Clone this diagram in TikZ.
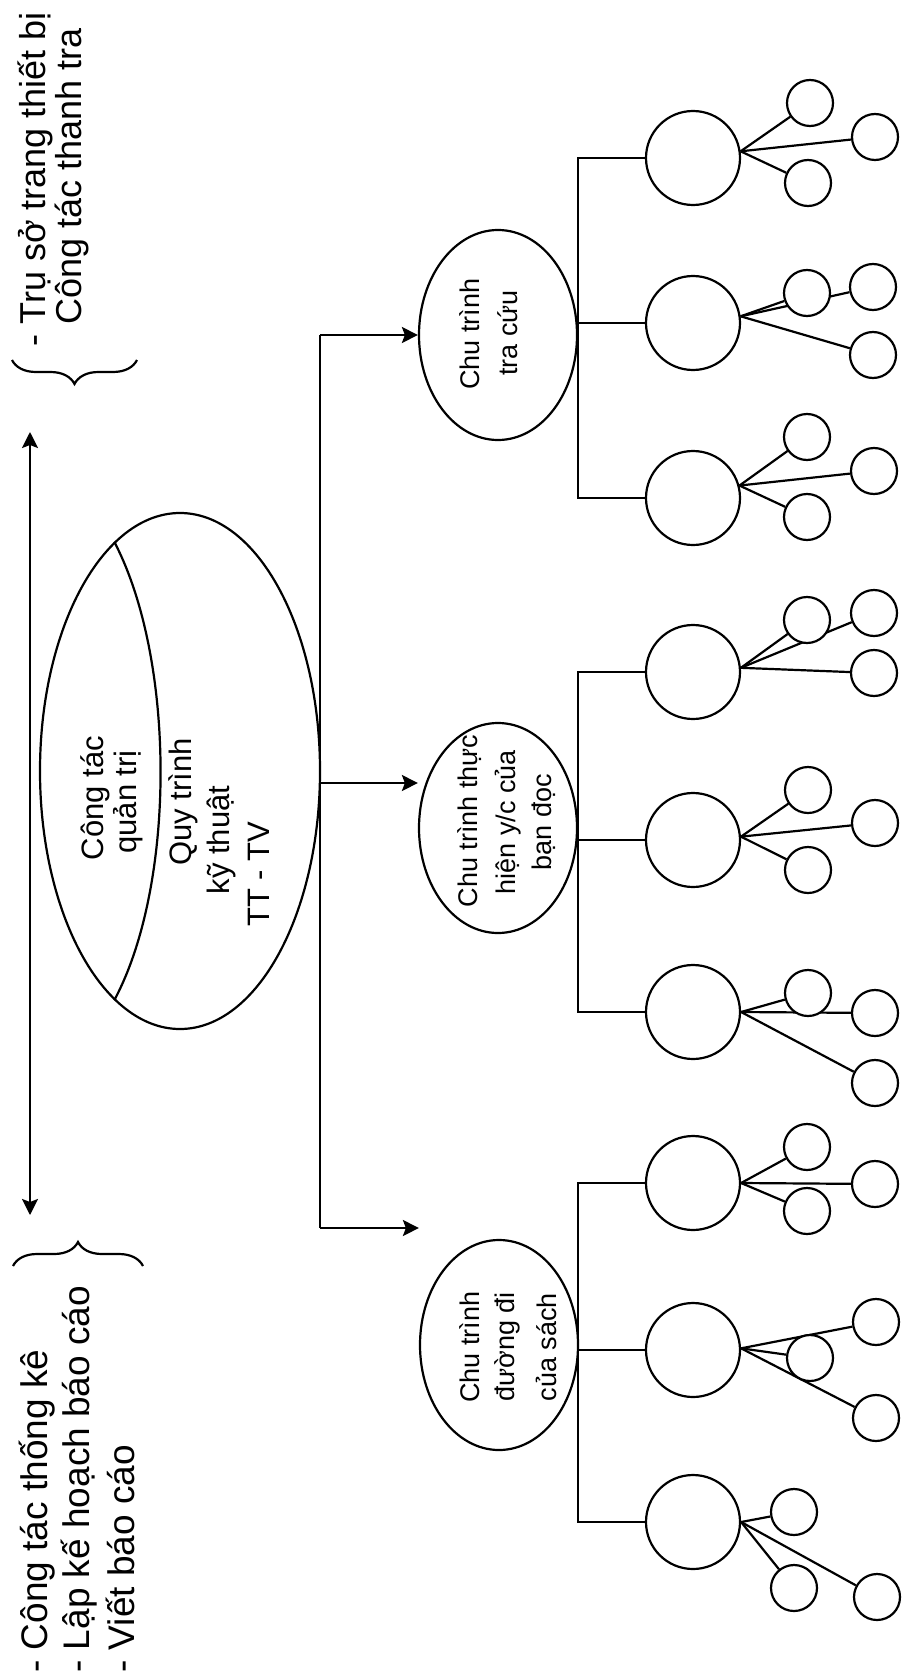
\documentclass[tikz,border=0pt]{standalone}
\usepackage{fontspec}
\setmainfont{Liberation Sans}
\usetikzlibrary{shapes.geometric, arrows.meta, decorations.pathreplacing, backgrounds}
\begin{document}
\begin{tikzpicture}[x=0.5pt, y=-0.5pt,
  ln/.style={line width=1.1pt},
  big/.style={circle, draw, line width=1.1pt, fill=white, minimum size=47pt, inner sep=0pt},
  sm/.style={circle, draw, line width=1.1pt, fill=white, minimum size=23pt, inner sep=0pt},
  ell/.style={ellipse, draw, line width=1.1pt, inner sep=0pt},
  lbl/.style={rotate=90, anchor=west, inner sep=0pt, font=\fontsize{18.5pt}{22pt}\selectfont},
  tlbl/.style={rotate=90, anchor=west, inner sep=0pt, font=\fontsize{18pt}{22pt}\selectfont},
  inl/.style={rotate=90, inner sep=0pt, font=\fontsize{13.5pt}{16pt}\selectfont},
  inm/.style={rotate=90, inner sep=0pt, font=\fontsize{15.5pt}{18pt}\selectfont},
  arr/.style={line width=1.1pt, -{Stealth[length=8pt, width=8pt, inset=1.5pt]}},
  darr/.style={line width=1.1pt, {Stealth[length=8pt, width=8pt, inset=1.5pt]}-{Stealth[length=8pt, width=8pt, inset=1.5pt]}},
  brc/.style={line width=1.1pt, decorate, decoration={brace, amplitude=12pt}}
]
\useasboundingbox (0,0) rectangle (902,1680);

% outer labels
\node[tlbl] (t1) at (35,347) {- Trụ sở trang thiết bị};
\node[tlbl] (t2) at (72,325) {Công tác thanh tra};
\node[lbl] (b1) at (37,1673) {- Công tác thống kê};
\node[lbl] (b2) at (79,1673) {- Lập kế hoạch báo cáo};
\node[lbl] (b3) at (120,1673) {- Viết báo cáo};

% braces
\coordinate (br1a) at (137,360); \coordinate (br1b) at (12,360);
\coordinate (br2a) at (13,1266); \coordinate (br2b) at (143,1266);
\draw[brc] (br1a) -- (br1b);
\draw[brc] (br2a) -- (br2b);

% left double arrow
\coordinate (A1) at (30,432); \coordinate (A2) at (30,1215);
\draw[darr] (A1) -- (A2);

% main ellipse
\node[ell, minimum width=140pt, minimum height=258pt] (M) at (180,771) {};
\draw[ln] (M.106) .. controls (176,660) and (176,885) .. (M.254);
\node[inm] (m1) at (95,798) {Công tác};
\node[inm] (m2) at (128,802) {quản trị};
\node[inm] (m3) at (183,802) {Quy trình};
\node[inm] (m4) at (221,840) {kỹ thuật};
\node[inm] (m5) at (259,874) {TT - TV};

% second level ellipses
\node[ell, minimum width=79pt, minimum height=105pt] (E1) at (498,335) {};
\node[ell, minimum width=79pt, minimum height=105pt] (E2) at (498,828) {};
\node[ell, minimum width=79pt, minimum height=105pt] (E3) at (499,1345) {};
\node[inl] (e1a) at (470,334) {Chu trình};
\node[inl] (e1b) at (508,333) {tra cứu};
\node[inl] (e2a) at (470,821) {Chu trình thực};
\node[inl] (e2b) at (508,822) {hiện y/c của};
\node[inl] (e2c) at (544,822) {bạn đọc};
\node[inl] (e3a) at (470,1347) {Chu trình};
\node[inl] (e3b) at (507,1347) {đường đi};
\node[inl] (e3c) at (546,1347) {của sách};

% trunk and arrows
\coordinate (T1) at (320,335); \coordinate (T2) at (320,783); \coordinate (T3) at (320,1228);
\draw[ln] (T1) -- (T3);
\draw[arr] (T1) -- (E1.west);
\draw[arr] (T2) -- (T2 -| E2.west);
\draw[arr] (T3) -- (T3 -| E3.west);

% big circles
\foreach \i/\y in {1/158,2/323,3/498,4/672,5/840,6/1012,7/1183,8/1350,9/1522}
  \node[big] (B\i) at (693,\y) {};

% branch lines
\coordinate (vx) at (578,0);
\draw[ln] (B1.west) -- (B1.west -| vx) -- (B3.west -| vx) -- (B3.west);
\draw[ln] (B2.west) -- (B2.west -| vx);
\draw[ln] (B4.west) -- (B4.west -| vx) -- (B6.west -| vx) -- (B6.west);
\draw[ln] (B5.west) -- (B5.west -| vx);
\draw[ln] (B7.west) -- (B7.west -| vx) -- (B9.west -| vx) -- (B9.west);
\draw[ln] (B8.west) -- (B8.west -| vx);

% small circles
\node[sm] (S1a) at (810,103) {}; \node[sm] (S1b) at (875,137) {}; \node[sm] (S1c) at (808,183) {};
\node[sm] (S2a) at (807,293) {}; \node[sm] (S2b) at (873,287) {}; \node[sm] (S2c) at (873,355) {};
\node[sm] (S3a) at (807,437) {}; \node[sm] (S3b) at (874,471) {}; \node[sm] (S3c) at (807,517) {};
\node[sm] (S4a) at (807,620) {}; \node[sm] (S4b) at (874,613) {}; \node[sm] (S4c) at (874,673) {};
\node[sm] (S5a) at (808,790) {}; \node[sm] (S5b) at (875,823) {}; \node[sm] (S5c) at (808,870) {};
\node[sm] (S6a) at (808,993) {}; \node[sm] (S6b) at (875,1013) {}; \node[sm] (S6c) at (875,1083) {};
\node[sm] (S7a) at (807,1147) {}; \node[sm] (S7b) at (875,1184) {}; \node[sm] (S7c) at (807,1211) {};
\node[sm] (S8a) at (876,1322) {}; \node[sm] (S8b) at (810,1358) {}; \node[sm] (S8c) at (876,1418) {};
\node[sm] (S9a) at (794,1512) {}; \node[sm] (S9b) at (794,1588) {}; \node[sm] (S9c) at (877,1597) {};

\begin{scope}[on background layer]
  \fill[white] (0,0) rectangle (902,1680);
  \foreach \b/\a/\c in {1/8/a,1/8/b,1/8/c,2/8/a,2/8/b,2/8/c,3/15/a,3/15/b,3/15/c,
      4/5/a,4/5/b,4/5/c,5/4/a,5/4/b,5/4/c,6/0/a,6/0/b,6/0/c,7/0/a,7/0/b,7/0/c,
      8/2/a,8/2/b,8/2/c,9/0/a,9/0/b,9/0/c}
    \draw[ln] (B\b.\a) -- (S\b\c);
\end{scope}
\end{tikzpicture}
\end{document}
